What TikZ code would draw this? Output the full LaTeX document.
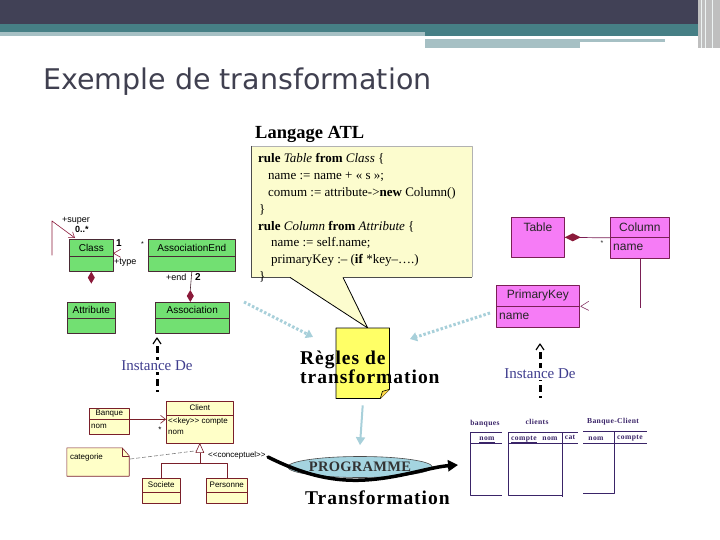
\documentclass[tikz,border=0pt]{standalone}
\usepackage{fontspec}
\setmainfont{Liberation Serif}
\setsansfont{Liberation Sans}
\newfontfamily\titlefont{DejaVu Sans}
\newfontfamily\wideserif[LetterSpace=5]{Liberation Serif}
\newfontfamily\progfont[LetterSpace=2]{Liberation Serif}
\usetikzlibrary{arrows.meta,shapes.geometric,calc}
\definecolor{slidedark}{HTML}{414156}
\definecolor{slideteal}{HTML}{467F85}
\definecolor{slidelight}{HTML}{A6C0C4}
\definecolor{titlegrey}{HTML}{404050}
\definecolor{umlgreen}{HTML}{72E072}
\definecolor{umledge}{HTML}{4A2A35}
\definecolor{umlred}{HTML}{8B1A3A}
\definecolor{umlpink}{HTML}{F67CF6}
\definecolor{pinkedge}{HTML}{7A1F55}
\definecolor{paleyellow}{HTML}{FFFFC8}
\definecolor{paleedge}{HTML}{7A1F2A}
\definecolor{calloutfill}{HTML}{FCFCCE}
\definecolor{docyellow}{HTML}{FFFF66}
\definecolor{flowblue}{HTML}{A8D0DA}
\definecolor{progblue}{HTML}{A4D4E0}
\definecolor{instblue}{HTML}{3F3D8E}
\definecolor{tabpurple}{HTML}{3A2468}

\begin{document}
\begin{tikzpicture}[
  x=1pt, y=-1pt,
  line join=round,
  gbox/.style={draw=umledge,fill=umlgreen,line width=0.6pt,inner sep=0pt},
  pbox/.style={draw=pinkedge,fill=umlpink,line width=0.7pt,inner sep=0pt},
  ybox/.style={draw=paleedge,fill=paleyellow,line width=0.6pt,inner sep=0pt},
  gline/.style={draw=umledge,line width=0.6pt},
  pline/.style={draw=pinkedge,line width=0.7pt},
  yline/.style={draw=paleedge,line width=0.6pt},
  gtext/.style={font=\sffamily\fontsize{10}{11}\selectfont,inner sep=0pt},
  glabel/.style={font=\sffamily\fontsize{9}{10}\selectfont,inner sep=0pt,anchor=west},
  ptext/.style={font=\sffamily\fontsize{12}{13}\selectfont,inner sep=0pt,text=black!85},
  ytext/.style={font=\sffamily\fontsize{8}{9}\selectfont,inner sep=0pt},
  codeline/.style={font=\fontsize{13}{15}\selectfont,inner sep=0pt,anchor=base west},
  bigtitle/.style={font=\wideserif\bfseries\fontsize{19.5}{21}\selectfont,inner sep=0pt,anchor=base west},
  instlabel/.style={font=\fontsize{15}{16}\selectfont,text=instblue,fill=white,inner sep=1pt},
  instline/.style={line width=3pt,dash pattern=on 7pt off 4pt},
  chevron/.style={line width=1.2pt},
  flowdots/.style={draw=flowblue,line width=3pt,dash pattern=on 2.5pt off 2pt,-{Triangle[length=7pt,width=9pt]}},
  flowsolid/.style={draw=flowblue,line width=2pt,-{Triangle[length=8pt,width=9pt]}},
  progarrow/.style={draw=black,line width=3.5pt,line cap=round,-{Triangle[length=10pt,width=11pt]}},
  tabline/.style={draw=tabpurple,line width=1pt},
  tabtext/.style={font=\wideserif\bfseries\fontsize{7.6}{9}\selectfont,text=tabpurple,inner sep=0pt,anchor=base}
]
  \useasboundingbox (0,0) rectangle (720,540);

  % Slide header bands.
  \fill[slidedark] (0,0) rectangle (720,24);
  \fill[slideteal] (0,24) rectangle (720,32);
  \fill[slidelight] (0,32) rectangle (425,36);
  \fill[slideteal] (425,32) rectangle (700,36);
  \fill[slidelight] (425,39) rectangle (665,42);
  \fill[slidelight] (425,42) rectangle (580,48);
  \fill[black!25] (698,0) rectangle (720,48);
  \foreach \vx in {701,705,712} {
    \draw[white!80!slidelight,line width=0.8pt] (\vx,0) -- (\vx,48);
  }

  \node[anchor=base west,inner sep=0pt,text=titlegrey,
        font=\titlefont\fontsize{28.5}{30}\selectfont] (title) at (43,90) {Exemple de transformation};

  % ATL rules in a callout.
  \node[font=\bfseries\fontsize{18.5}{20}\selectfont,inner sep=0pt,anchor=base west] (atl) at (255,139) {Langage ATL};
  \node[fill=calloutfill,minimum width=221,minimum height=131,inner sep=0pt,anchor=north west] (atlbox) at (251,146) {};
  \draw[black!30,line width=0.6pt] (atlbox.north west) -- (atlbox.north east) -- (atlbox.south east);
  \draw[black!70,line width=0.8pt] (atlbox.north west) -- (atlbox.south west) -- ++(39,0);
  \draw[black!70,line width=0.8pt] ($(atlbox.south west)+(92,0)$) -- (atlbox.south east);

  \node[anchor=north west,inner sep=0pt,minimum width=53,minimum height=70] (regles) at (336,328) {};
  \fill[calloutfill] ($(atlbox.south west)+(39,-0.4)$) -- ($(regles.north)+(5,0)$) -- ($(atlbox.south west)+(92,-0.4)$) -- cycle;
  \draw[black,line width=0.8pt] ($(atlbox.south west)+(39,0)$) -- ($(regles.north)+(5,0)$) -- ($(atlbox.south west)+(92,0)$);

  \foreach \dx/\ln [count=\i] in {
    0/{\textbf{rule} \textit{Table} \textbf{from} \textit{Class} \{},
    10/{name := name + « s »;},
    10/{comum := attribute->\textbf{new} Column()},
    1/{\}},
    0/{\textbf{rule} \textit{Column} \textbf{from} \textit{Attribute} \{},
    13/{name := self.name;},
    13/{primaryKey :– (\textbf{if} *key–….)},
    1/{\}}} {
    \node[codeline] (code\i) at (258+\dx,145.5+16.9*\i) {\ln};
  }

  % Source metamodel (green).
  \foreach \n/\bx/\by/\w/\h/\d/\t in {
    class/69/239/44/32/17/Class,
    assocend/148/239/87/32/17/AssociationEnd,
    attribute/67/302/48/31/16/Attribute,
    association/155/302/74/31/16/Association} {
    \node[gbox,anchor=north west,minimum width=\w,minimum height=\h] (\n) at (\bx,\by) {};
    \draw[gline] ($(\n.north west)+(0,\d)$) -- ($(\n.north east)+(0,\d)$);
    \node[gtext] at ($(\n.north)+(0,\d/2)$) {\t};
  }
  \draw[gline,draw=umlred,-{Straight Barb[length=5pt,width=7pt]}]
    ($(class.west)+(-17,0)$) -- ($(class.north west)+(-17,-18)$) -- ($(class.north west)+(6,-1)$);
  \node[glabel] at (62,221) {+super};
  \node[glabel,font=\sffamily\bfseries\fontsize{9}{10}\selectfont] at (75,229.5) {0..*};
  \node[glabel,font=\sffamily\bfseries\fontsize{10}{11}\selectfont] at (116,243) {1};
  \node[glabel,font=\sffamily\fontsize{7}{8}\selectfont] at (141,244) {*};
  \draw[gline,draw=umlred] ($(class.east)+(7,-6)$) -- ($(class.east)+(0,-2)$) -- ($(class.east)+(7,2)$);
  \node[glabel] at (114,263) {+type};
  \fill[umlred] (class.south) -- ++(3.5,6) -- ++(-3.5,6) -- ++(-3.5,-6) -- cycle;
  \draw[gline] (assocend.south) -- ($(association.north)+(-2,-12)$);
  \fill[umlred] (association.north) ++(-2,0) -- ++(3.5,-6) -- ++(-3.5,-6) -- ++(-3.5,6) -- cycle;
  \node[glabel] at (166,277) {+end};
  \node[glabel,font=\sffamily\bfseries\fontsize{10}{11}\selectfont] at (195,277) {2};

  % Target metamodel (pink).
  \node[pbox,anchor=north west,minimum width=53,minimum height=40] (table) at (511,217) {};
  \node[ptext] at ($(table.north)+(0,10)$) {Table};
  \foreach \n/\bx/\by/\w/\h/\d/\t in {
    column/610/217/59/41/20/Column,
    primarykey/496/285/83/42/21/PrimaryKey} {
    \node[pbox,anchor=north west,minimum width=\w,minimum height=\h] (\n) at (\bx,\by) {};
    \draw[pline] ($(\n.north west)+(0,\d)$) -- ($(\n.north east)+(0,\d)$);
    \node[ptext] at ($(\n.north)+(0,\d/2)$) {\t};
    \node[ptext,anchor=west] at ($(\n.north west)+(3,\d+10)$) {name};
  }
  \draw[pline] (table.east) -- (column.west);
  \fill[umlred] (table.east) -- ++(8,-4) -- ++(8,4) -- ++(-8,4) -- cycle;
  \node[ptext,font=\sffamily\fontsize{7}{8}\selectfont] at (602,243) {*};
  \draw[pline] (column.south) -- ++(0,49);
  \draw[pline,line width=0.5pt] ($(primarykey.east)+(9,-5)$) -- ($(primarykey.east)+(1,0)$) -- ($(primarykey.east)+(9,4)$);

  % Source model (pale yellow).
  \foreach \n/\bx/\by/\w/\h/\d/\t in {
    banque/89/408/40/26/11/Banque,
    client/166/401/67/42/14/Client,
    societe/142/478/38/25/14/Societe,
    personne/206/478/41/25/14/Personne} {
    \node[ybox,anchor=north west,minimum width=\w,minimum height=\h] (\n) at (\bx,\by) {};
    \draw[yline] ($(\n.north west)+(0,\d)$) -- ($(\n.north east)+(0,\d)$);
    \node[ytext] at ($(\n.north)+(0,\d/2)$) {\t};
  }
  \node[ytext,anchor=west] at ($(banque.north west)+(2,18)$) {nom};
  \node[ytext,anchor=west] at ($(client.north west)+(2,20)$) {<{}<key>{}> compte};
  \node[ytext,anchor=west] at ($(client.north west)+(2,31)$) {nom};
  \draw[yline,-{Straight Barb[length=5pt,width=8pt]}] ($(banque.east)+(0,-2)$) -- ($(client.west)+(0,-3)$);
  \node[ytext] at (160,430) {*};

  \node[inner sep=0pt,minimum width=62,minimum height=28] (note) at (98,462) {};
  \draw[ybox] (note.north west) -- ($(note.north east)+(-7,0)$) -- ($(note.north east)+(0,8)$)
    -- (note.south east) -- (note.south west) -- cycle;
  \draw[yline] ($(note.north east)+(-7,0)$) -- ($(note.north east)+(-7,8)$) -- ($(note.north east)+(0,8)$);
  \node[ytext,anchor=west] at ($(note.west)+(3,-5)$) {categorie};

  \draw[gray,line width=0.6pt,dash pattern=on 4pt off 2pt] ($(note.east)+(1,-3)$) -- ($(client.south)+(-2,7)$);
  \draw[yline,fill=white] (client.south) -- ++(-4,9) -- ++(8,0) -- cycle;
  \draw[yline] ($(client.south)+(0,9)$) -- ($(client.south)+(0,20)$) coordinate (genbar);
  \draw[yline] (societe.north) |- (genbar) -| (personne.north);
  \node[ytext,anchor=west] at (208,455) {<{}<conceptuel>{}>};

  % Target model (tables).
  \node[tabtext] (banques) at (485,425) {banques};
  \node[tabtext] (clients) at (537,424) {clients};
  \node[tabtext] (banqueclient) at (613,423) {Banque-Client};
  \draw[tabline] (470,432) -- (502,432) (470,443) -- (502,443) (470,432) -- (470,495) -- (502,495);
  \draw[tabline] (508,432) -- (578,432) (508,443) -- (578,443) (508,432) -- (508,495) -- (562,495)
    (562,432) -- (562,497);
  \draw[tabline] (583,431) -- (647,431) (583,443) -- (647,443) (614,431) -- (614,493) -- (583,493);
  \node[tabtext] (colnom) at (487,440) {nom};
  \node[tabtext] (colcompte) at (524,440) {compte};
  \node[tabtext] (colnomb) at (550,440) {nom};
  \node[tabtext] (colcat) at (570,439.5) {cat};
  \node[tabtext] (colnomc) at (596,440) {nom};
  \node[tabtext] (colcomptec) at (630,439.5) {compte};
  \draw[tabline,line width=1.8pt] ($(colnom.base west)+(0,2.5)$) -- ($(colnom.base east)+(0,2.5)$);
  \draw[tabline,line width=1.8pt] ($(colcompte.base west)+(0,2.5)$) -- ($(colcompte.base east)+(0,2.5)$);

  % Instance-of arrows.
  \coordinate (instLtop) at (157,346);
  \coordinate (instLbot) at (157,392);
  \draw[instline] (instLtop) -- (instLbot);
  \draw[chevron] ($(instLtop)+(-4,-2)$) -- ($(instLtop)+(0,-8)$) -- ($(instLtop)+(4,-2)$);
  \node[instlabel] (instL) at (157,366) {Instance De};
  \coordinate (instRtop) at (540,352);
  \coordinate (instRbot) at (540,398);
  \draw[instline] (instRtop) -- (instRbot);
  \draw[chevron] ($(instRtop)+(-4,-2)$) -- ($(instRtop)+(0,-8)$) -- ($(instRtop)+(4,-2)$);
  \node[instlabel] (instR) at (540,374) {Instance De};

  % Transformation rules document and flow.
  \coordinate (srcflow) at (244,302);
  \coordinate (srcend) at (313,337);
  \coordinate (tgtflow) at (490,313);
  \coordinate (tgtend) at (410,339);
  \draw[flowdots] (srcflow) -- (srcend);
  \draw[flowdots] (tgtflow) -- (tgtend);

  \draw[fill=docyellow,line width=0.8pt] (regles.north west) -- (regles.north east) -- ($(regles.south east)+(0,-9)$)
    -- ($(regles.south east)+(-9,0)$) -- (regles.south west) -- cycle;
  \draw[fill=docyellow!70!orange,line width=0.6pt] ($(regles.south east)+(0,-9)$) -- ($(regles.south east)+(-7,-7)$) -- ($(regles.south east)+(-9,0)$);
  \node[bigtitle] (reg1) at (300,364) {Règles de};
  \node[bigtitle] (reg2) at (300,383) {transformation};

  \node[ellipse,draw=black!70,fill=progblue,line width=0.6pt,minimum width=116,minimum height=21,inner sep=0pt,
        font=\progfont\bfseries\fontsize{14.5}{15}\selectfont,text=black!80] (prog) at (360,467) {PROGRAMME};
  \draw[flowsolid] ($(regles.south)+(0,7)$) -- ($(prog.north)+(0,-11)$);
  \coordinate (progin) at (268,457);
  \coordinate (progout) at (458,465);
  \draw[progarrow] (progin) .. controls (300,473) and (330,482) .. (365,480)
    .. controls (400,478) and (430,467) .. (progout);
  \node[bigtitle] (transf) at (305,504) {Transformation};
\end{tikzpicture}
\end{document}
